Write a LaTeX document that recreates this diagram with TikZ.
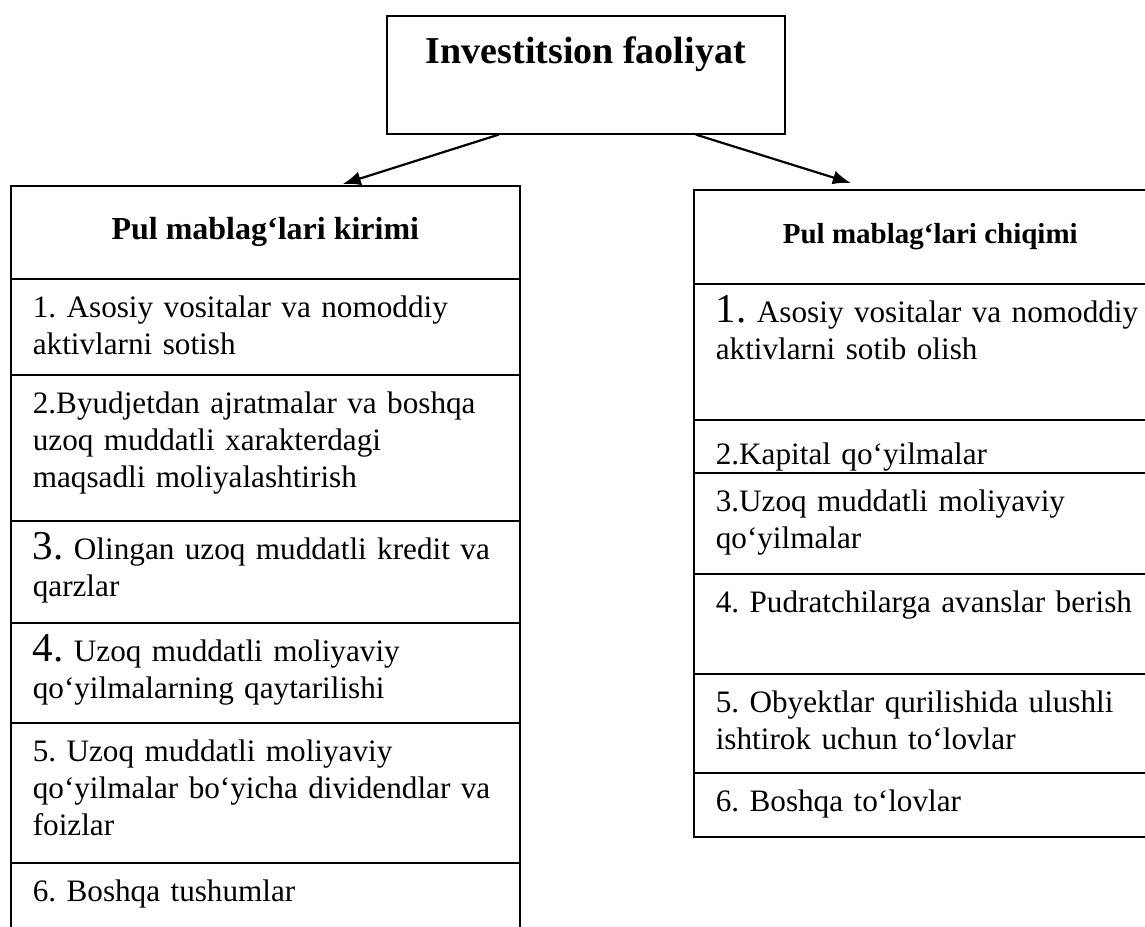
\documentclass[tikz,border=0pt]{standalone}
\usepackage{fontspec}
\setmainfont{Liberation Serif}
\usetikzlibrary{arrows.meta}
\newcommand{\kattaraqam}[1]{{\fontsize{20.5}{18}\selectfont #1}}

\begin{document}
\begin{tikzpicture}[x=0.5pt,y=-0.5pt,
        box/.style={draw, thick, anchor=north west, inner sep=0pt},
        head/.style={box, font=\fontsize{16}{19}\selectfont\bfseries},
        cell/.style={draw, thick, anchor=north west, align=left, inner xsep=11pt, inner ysep=4pt,
            text height=15.5pt, text depth=#1,
            font=\fontsize{15.6}{18.4}\selectfont\frenchspacing},
        kcell/.style={cell=#1, text width=232.5pt},
        ccell/.style={cell=#1, text width=226.5pt},
        arr/.style={-{Latex[length=9pt,width=7pt]}, line width=1.1pt}]
        \useasboundingbox (0,0) rectangle (1145,926);

        \node[box, minimum width=199pt, inner ysep=4pt, text height=20pt, text depth=31pt,
            font=\fontsize{19}{22}\selectfont\bfseries] (inv) at (386,15) {Investitsion faoliyat};

        \node[head, minimum width=254.5pt, minimum height=46.5pt] (kir) at (10,185) {Pul mablag‘lari kirimi};
        \node[kcell=24.5pt] (k1) at (10,278) {1. Asosiy vositalar va nomoddiy\\aktivlarni sotish};
        \node[kcell=49.5pt] (k2) at (10,374) {2.Byudjetdan ajratmalar va boshqa\\uzoq muddatli xarakterdagi\\maqsadli moliyalashtirish};
        \node[kcell=27.5pt] (k3) at (10,520) {\kattaraqam{3.} Olingan uzoq muddatli kredit va\\qarzlar};
        \node[kcell=26.5pt] (k4) at (10,622) {\kattaraqam{4.} Uzoq muddatli moliyaviy\\qo‘yilmalarning qaytarilishi};
        \node[kcell=46.5pt] (k5) at (10,722) {5. Uzoq muddatli moliyaviy\\qo‘yilmalar bo‘yicha dividendlar va\\foizlar};
        \node[kcell=30pt] (k6) at (10,862) {6. Boshqa tushumlar};

        \node[head, minimum width=236.5pt, minimum height=47pt,
            font=\fontsize{14.5}{17}\selectfont\bfseries] (chq) at (693,189) {Pul mablag‘lari chiqimi};
        \node[ccell=44.5pt] (c1) at (693,283) {\kattaraqam{1.} Asosiy vositalar va nomoddiy\\aktivlarni sotib olish};
        \node[ccell=0pt, text height=18.5pt] (c2) at (693,419) {2.Kapital qo‘yilmalar};
        \node[ccell=27pt] (c3) at (693,472) {3.Uzoq muddatli moliyaviy\\qo‘yilmalar};
        \node[ccell=26.5pt] (c4) at (693,573) {4. Pudratchilarga avanslar berish};
        \node[ccell=26pt] (c5) at (693,673) {5. Obyektlar qurilishida ulushli\\ishtirok uchun to‘lovlar};
        \node[ccell=8.5pt] (c6) at (693,772) {6. Boshqa to‘lovlar};

        \draw[arr] ([xshift=-43.5pt]inv.south) -- ([xshift=38.75pt, yshift=0.5pt]kir.north);
        \draw[arr] ([xshift=55pt]inv.south) -- ([xshift=-39.75pt, yshift=3pt]chq.north);
    \end{tikzpicture}
\end{document}
